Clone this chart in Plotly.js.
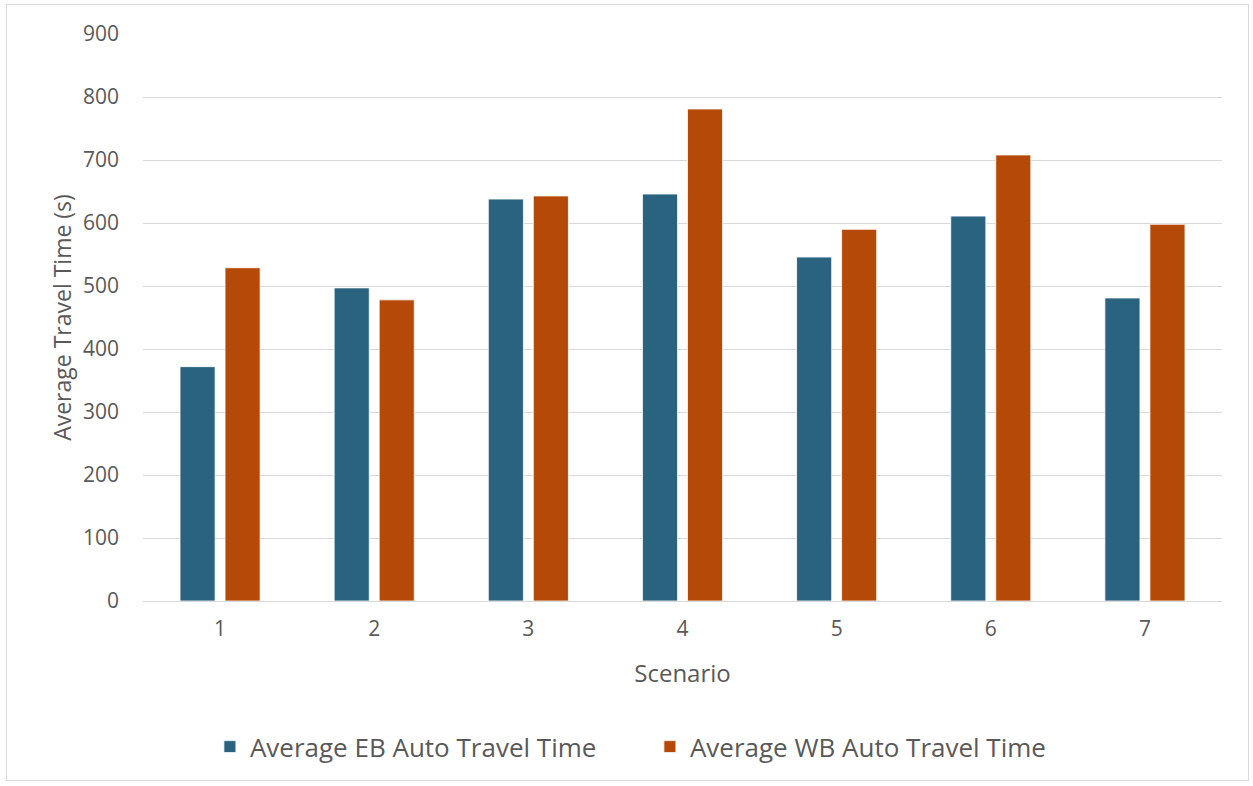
<!DOCTYPE html>
<html>
<head>
<meta charset="utf-8">
<script src="https://cdn.plot.ly/plotly-3.0.1.min.js"></script>
<style>
  html, body { margin: 0; padding: 0; background: #ffffff; }
  #chart { position: absolute; left: 0; top: 0; width: 1253px; height: 786px; }
  #frame { position: absolute; left: 6px; top: 4px; width: 1241px; height: 775px; border: 1px solid #d9d9d9; pointer-events: none; }
</style>
</head>
<body>
<div id="chart"></div>
<div id="frame"></div>
<script>
const scenarios = ['1', '2', '3', '4', '5', '6', '7'];
const ebTravelTime = [372, 497, 638, 646, 546, 611, 481];
const wbTravelTime = [529, 478, 643, 781, 590, 708, 598];
const seriesNames = ['Average EB Auto Travel Time', 'Average WB Auto Travel Time'];

const fontFamily = '"Open Sans", "Noto Sans", sans-serif';
const textColor = '#595959';

const traces = [
  {
    type: 'bar', name: seriesNames[0], x: scenarios, y: ebTravelTime,
    marker: { color: '#2a6380', line: { color: '#ffffff', width: 0.8 } },
    hoverinfo: 'x+y'
  },
  {
    type: 'bar', name: seriesNames[1], x: scenarios, y: wbTravelTime,
    marker: { color: '#b54a08', line: { color: '#ffffff', width: 0.8 } },
    hoverinfo: 'x+y'
  }
];

const layout = {
  width: 1253, height: 786,
  margin: { l: 143, r: 31, t: 34, b: 185 },
  paper_bgcolor: 'rgba(0,0,0,0)', plot_bgcolor: '#ffffff',
  barmode: 'group', bargap: 0.416, bargroupgap: 0.22,
  font: { family: fontFamily, color: textColor },
  xaxis: {
    type: 'category',
    tickfont: { size: 21, color: textColor },
    ticks: '', showline: false, showgrid: false,
    ticklabelstandoff: 13,
    title: { text: 'Scenario', font: { size: 24, color: textColor }, standoff: 24 }
  },
  yaxis: {
    range: [0, 900], dtick: 100,
    tickfont: { size: 21, color: textColor },
    gridcolor: '#d9d9d9', gridwidth: 1.3,
    zeroline: true, zerolinecolor: '#d9d9d9', zerolinewidth: 1.3,
    showline: false, ticks: '',
    ticklabelstandoff: 23,
    title: { text: 'Average Travel Time (s)', font: { size: 23, color: textColor }, standoff: 4 }
  },
  legend: {
    orientation: 'h', x: 0.062, xanchor: 'left', y: -0.257, yanchor: 'middle',
    font: { size: 26, color: textColor }, itemwidth: 30, traceorder: 'normal',
    entrywidth: 395, entrywidthmode: 'pixels'
  },
  showlegend: true
};

Plotly.newPlot('chart', traces, layout, { displayModeBar: false, staticPlot: false });
</script>
</body>
</html>
